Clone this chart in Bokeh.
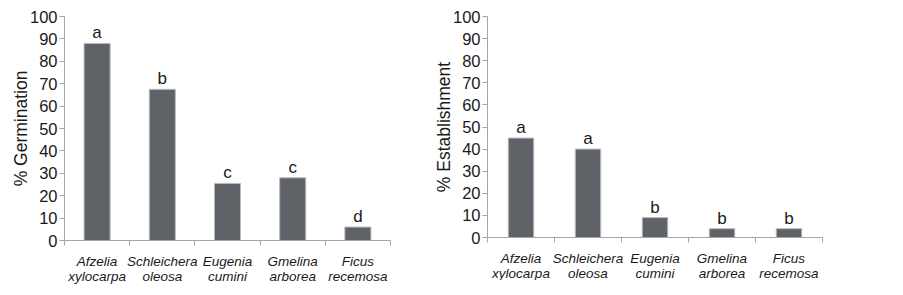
from bokeh.plotting import figure
from bokeh.layouts import row
from bokeh.models import FixedTicker, Range1d, ColumnDataSource
from bokeh.core.properties import value
from bokeh.embed import file_html
from bokeh.resources import INLINE

genus = ["Afzelia", "Schleichera", "Eugenia", "Gmelina", "Ficus"]
epithet = ["xylocarpa", "oleosa", "cumini", "arborea", "recemosa"]
germination = [88, 67.5, 25.5, 28, 6]
germ_letters = ["a", "b", "c", "c", "d"]
establishment = [45, 40, 9, 4, 4]
est_letters = ["a", "a", "b", "b", "b"]
y_ticks = [0, 10, 20, 30, 40, 50, 60, 70, 80, 90, 100]

FONT = "Liberation Sans"
AXIS_COLOR = "#a6a6a6"
BAR_COLOR = "#5f6367"
TEXT_COLOR = "#1a1a1a"


def make_chart(vals, letters, ylabel, fw, fh, bl, br, bt, bb, bar_w):
    n = len(vals)
    centers = [i + 0.5 for i in range(n)]
    labels = {c: f"{g}\n{e}" for c, g, e in zip(centers, genus, epithet)}
    p = figure(frame_width=fw, frame_height=fh, output_backend="svg",
               toolbar_location=None, x_range=Range1d(0, n),
               y_range=Range1d(0, 100),
               min_border_left=bl, min_border_right=br,
               min_border_top=bt, min_border_bottom=bb)
    p.outline_line_color = None
    p.grid.visible = False
    p.background_fill_color = "white"

    src = ColumnDataSource(dict(x=centers, top=vals, lab=letters))
    p.vbar(x="x", top="top", width=bar_w, bottom=0, source=src,
           fill_color=BAR_COLOR, line_color="#b8bcc0", line_width=1)
    p.text(x="x", y="top", text="lab", source=src, text_align="center",
           text_baseline="bottom", y_offset=-1,
           text_font=value(FONT), text_font_size="17px", text_color=TEXT_COLOR)

    xa = p.xaxis[0]
    xa.ticker = FixedTicker(ticks=centers, minor_ticks=list(range(n + 1)))
    xa.major_label_overrides = labels
    xa.major_tick_out = 0
    xa.major_tick_in = 0
    xa.minor_tick_out = 5
    xa.minor_tick_in = 0
    xa.minor_tick_line_color = AXIS_COLOR
    xa.axis_line_color = AXIS_COLOR
    xa.major_label_standoff = 8
    xa.major_label_text_font = FONT
    xa.major_label_text_font_style = "italic"
    xa.major_label_text_font_size = "13.5px"
    xa.major_label_text_line_height = 1.0
    xa.major_label_text_color = TEXT_COLOR

    ya = p.yaxis[0]
    ya.ticker = FixedTicker(ticks=y_ticks)
    ya.minor_tick_line_color = None
    ya.major_tick_out = 5
    ya.major_tick_in = 0
    ya.major_tick_line_color = AXIS_COLOR
    ya.axis_line_color = AXIS_COLOR
    ya.major_label_standoff = 2
    ya.major_label_text_font = FONT
    ya.major_label_text_font_size = "16.5px"
    ya.major_label_text_color = TEXT_COLOR
    ya.axis_label = ylabel
    ya.axis_label_standoff = -4
    ya.axis_label_text_font = FONT
    ya.axis_label_text_font_style = "normal"
    ya.axis_label_text_font_size = "17.5px"
    ya.axis_label_text_color = TEXT_COLOR
    return p


p1 = make_chart(germination, germ_letters, "% Germination",
                326, 224, 64, 39, 16, 40, 0.4)
p2 = make_chart(establishment, est_letters, "% Establishment",
                335, 221, 58, 50, 13, 40, 0.38)

layout = row(p1, p2)
open("out.html", "w").write(file_html(layout, INLINE))
